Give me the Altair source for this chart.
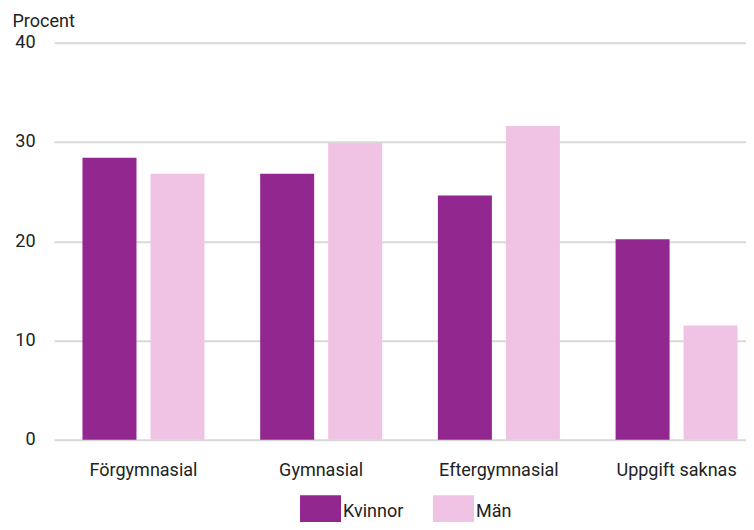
import altair as alt
import pandas as pd

categories = ["Förgymnasial", "Gymnasial", "Eftergymnasial", "Uppgift saknas"]
series = ["Kvinnor", "Män"]
kvinnor = [28.4, 26.8, 24.6, 20.2]
man = [26.8, 29.9, 31.6, 11.5]
colors = ["#92278F", "#F0C3E5"]
y_ticks = [0, 10, 20, 30, 40]

rows = []
for c, k, m in zip(categories, kvinnor, man):
    rows.append({"Utbildning": c, "Kön": series[0], "Procent": k})
    rows.append({"Utbildning": c, "Kön": series[1], "Procent": m})
df = pd.DataFrame(rows)

TEXT = "#222222"
FONT = "Roboto"

chart = alt.Chart(df).mark_bar().encode(
    x=alt.X(
        "Utbildning:N", sort=categories,
        scale=alt.Scale(paddingInner=0.3134, paddingOuter=0.1038, align=0.772),
        axis=alt.Axis(title=None, labelAngle=0, domain=False, ticks=False,
                      labelPadding=22, labelFontSize=18, labelFont=FONT,
                      labelColor=TEXT, grid=False),
    ),
    xOffset=alt.XOffset("Kön:N", sort=series,
                        scale=alt.Scale(paddingInner=0.206, paddingOuter=0)),
    y=alt.Y(
        "Procent:Q",
        scale=alt.Scale(domain=[0, 40], nice=False),
        axis=alt.Axis(values=y_ticks, title="Procent", titleAngle=0,
                      titleX=-42, titleY=-16.7, titleAlign="left",
                      titleBaseline="alphabetic", titleFontWeight="normal",
                      titleFontSize=18, titleFont=FONT, titleColor=TEXT,
                      labelFontSize=18, labelFont=FONT, labelColor=TEXT,
                      labelPadding=19, domain=False, ticks=False,
                      gridColor="#d9d9d9", gridWidth=2),
    ),
    color=alt.Color(
        "Kön:N", sort=series,
        scale=alt.Scale(domain=series, range=colors),
        legend=alt.Legend(title=None, orient="none", legendX=246, legendY=448.3,
                          direction="horizontal",
                          symbolType="M-1,-0.8H1V0.6H-1Z", symbolSize=1681,
                          symbolStrokeWidth=0, symbolOpacity=1,
                          labelFontSize=18, labelFont=FONT, labelColor=TEXT,
                          labelOffset=2, columnPadding=29),
    ),
).properties(
    width=692, height=397,
    autosize=alt.AutoSizeParams(type="none"),
    padding={"left": 46, "top": 34.7, "right": 0, "bottom": 82.3},
).configure(font=FONT).configure_view(stroke=None)

chart.save("out.html", embed_options={"renderer": "svg", "actions": False})
